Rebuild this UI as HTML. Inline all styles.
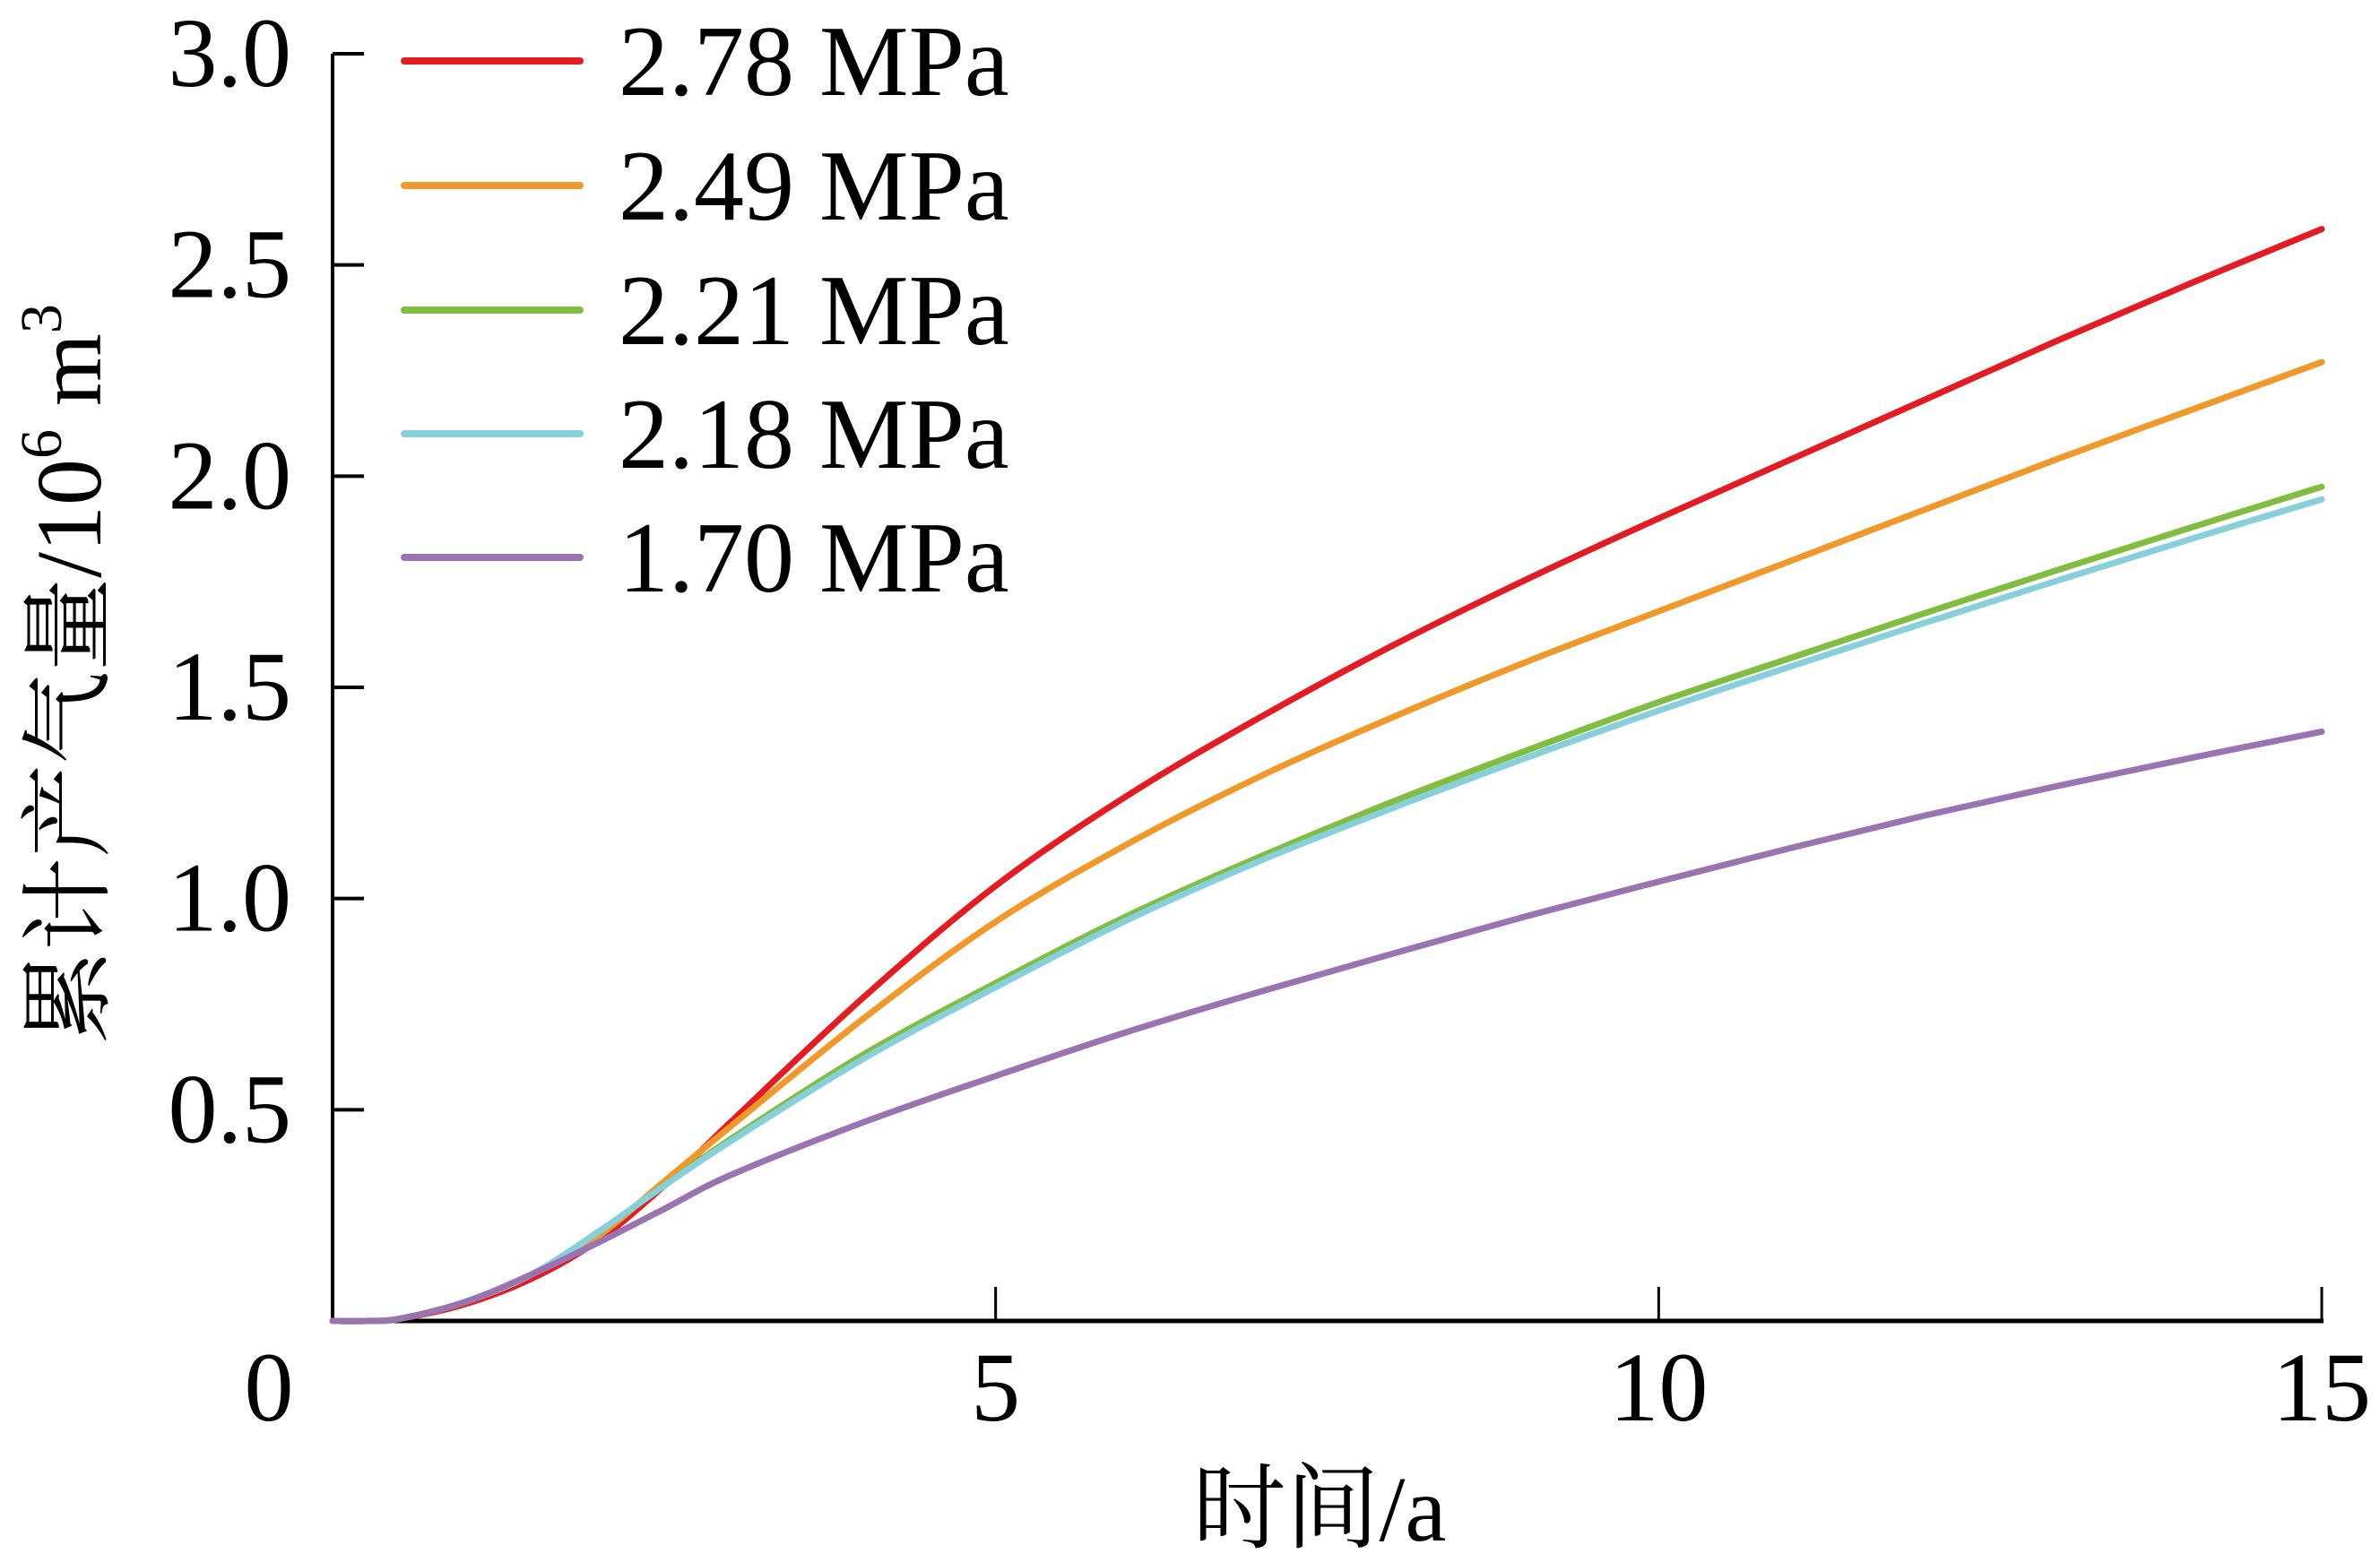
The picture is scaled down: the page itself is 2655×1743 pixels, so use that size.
<!DOCTYPE html>
<html><head><meta charset="utf-8"><style>
html,body{margin:0;padding:0;background:#fff;}
svg{display:block;}
text{font-family:"Liberation Serif","Noto Serif CJK SC",serif;fill:#000;}
</style></head><body>
<svg id="chart" width="2655" height="1743" viewBox="0 0 2655 1743" xmlns="http://www.w3.org/2000/svg">
<g id="axes"></g>
<g id="series"></g>
<g id="legend"></g>
<text x="1472" y="1719" font-size="104" text-anchor="middle">时间/a</text>
<text transform="translate(112,752) rotate(-90)" font-size="104" text-anchor="middle">累计产气量/10<tspan font-size="66" dy="-44">6</tspan><tspan dy="44"> m</tspan><tspan font-size="66" dy="-44">3</tspan></text>
</svg>
<script>
const times = [0,0.25,0.5,1,1.5,2,2.5,3,4,5,6,7,8,9,10,11,12,13,14,15];
const seriesNames = ["2.78 MPa","2.49 MPa","2.21 MPa","2.18 MPa","1.70 MPa"];
const seriesColors = ["#e31c23","#f0982a","#80bd41","#88cfdc","#9a74b1"];
const red    = [0,0,0.005,0.04,0.10,0.19,0.32,0.47,0.765,1.03,1.245,1.43,1.60,1.755,1.90,2.04,2.18,2.32,2.455,2.585];
const orange = [0,0,0.005,0.045,0.11,0.20,0.33,0.46,0.715,0.945,1.13,1.29,1.43,1.56,1.68,1.80,1.92,2.04,2.155,2.27];
const green  = [0,0,0.005,0.045,0.11,0.21,0.32,0.43,0.63,0.80,0.96,1.10,1.23,1.35,1.465,1.57,1.675,1.777,1.877,1.975];
const cyan   = [0,0,0.005,0.045,0.11,0.21,0.32,0.425,0.62,0.79,0.95,1.09,1.215,1.333,1.445,1.55,1.652,1.752,1.85,1.945];
const purple = [0,0,0.005,0.045,0.11,0.185,0.265,0.345,0.47,0.58,0.685,0.78,0.87,0.958,1.04,1.12,1.196,1.266,1.332,1.395];
const xTicks = [0,5,10,15];
const yTicks = [0.5,1.0,1.5,2.0,2.5,3.0];
const yTickLabels = ["0.5","1.0","1.5","2.0","2.5","3.0"];

const X0=371, X1=2590, Y0=1474, Y1=60;
function sx(v){return X0+(v-0)/(15-0)*(X1-X0);}
function sy(v){return Y0-(v-0)/(3-0)*(Y0-Y1);}
const NS="http://www.w3.org/2000/svg";
function mk(tag,attrs,parent){const e=document.createElementNS(NS,tag);for(const k in attrs)e.setAttribute(k,attrs[k]);parent.appendChild(e);return e;}
const axes=document.getElementById('axes');
let e;
e=mk('line',{x1:X0,y1:Y1,x2:X0,y2:Y0+2,stroke:'#000','stroke-width':4},axes);


e=mk('line',{x1:X0-2,y1:Y0,x2:X1+2,y2:Y0,stroke:'#000','stroke-width':5},axes);


yTicks.forEach((v,i)=>{
  const t=mk('line',{x1:X0,y1:sy(v),x2:X0+35,y2:sy(v),stroke:'#000','stroke-width':4},axes);
  
  
  const l=mk('text',{x:325,y:sy(v)+36,'font-size':110,'text-anchor':'end'},axes);
  l.textContent=yTickLabels[i];
  
  
});
xTicks.forEach(v=>{
  if(v>0){
    const t=mk('line',{x1:sx(v),y1:Y0,x2:sx(v),y2:Y0-38,stroke:'#000','stroke-width':3},axes);
    
    
  }
  const lx = v===0 ? 300 : sx(v);
  const l=mk('text',{x:lx,y:1585,'font-size':110,'text-anchor':'middle'},axes);
  l.textContent=String(v);
  
  
});
function pathFor(vals){
  const p=times.map((t,i)=>[sx(t),sy(vals[i])]);
  let d='M'+p[0][0]+','+p[0][1];
  for(let i=0;i<p.length-1;i++){
    const a=p[i-1]||p[i],b=p[i],c=p[i+1],n=p[i+2]||c;
    const c1=[b[0]+(c[0]-a[0])/6,b[1]+(c[1]-a[1])/6];
    const c2=[c[0]-(n[0]-b[0])/6,c[1]-(n[1]-b[1])/6];
    d+=' C'+c1[0]+','+c1[1]+' '+c2[0]+','+c2[1]+' '+c[0]+','+c[1];
  }
  return d;
}
const allSeries=[red,orange,green,cyan,purple];
const sg=document.getElementById('series');
const lg=document.getElementById('legend');
const legendY=[68,207,346,484,622];
allSeries.forEach((vals,i)=>{
  const path=mk('path',{d:pathFor(vals),fill:'none',stroke:seriesColors[i],'stroke-width':7,'stroke-linecap':'round','stroke-linejoin':'round'},sg);
  
  
  const ln=mk('line',{x1:451,y1:legendY[i],x2:647,y2:legendY[i],stroke:seriesColors[i],'stroke-width':8,'stroke-linecap':'round'},lg);
  
  
  const tx=mk('text',{x:690,y:legendY[i]+38,'font-size':112},lg);
  tx.textContent=seriesNames[i];
  
  
});
</script>
</body></html>
